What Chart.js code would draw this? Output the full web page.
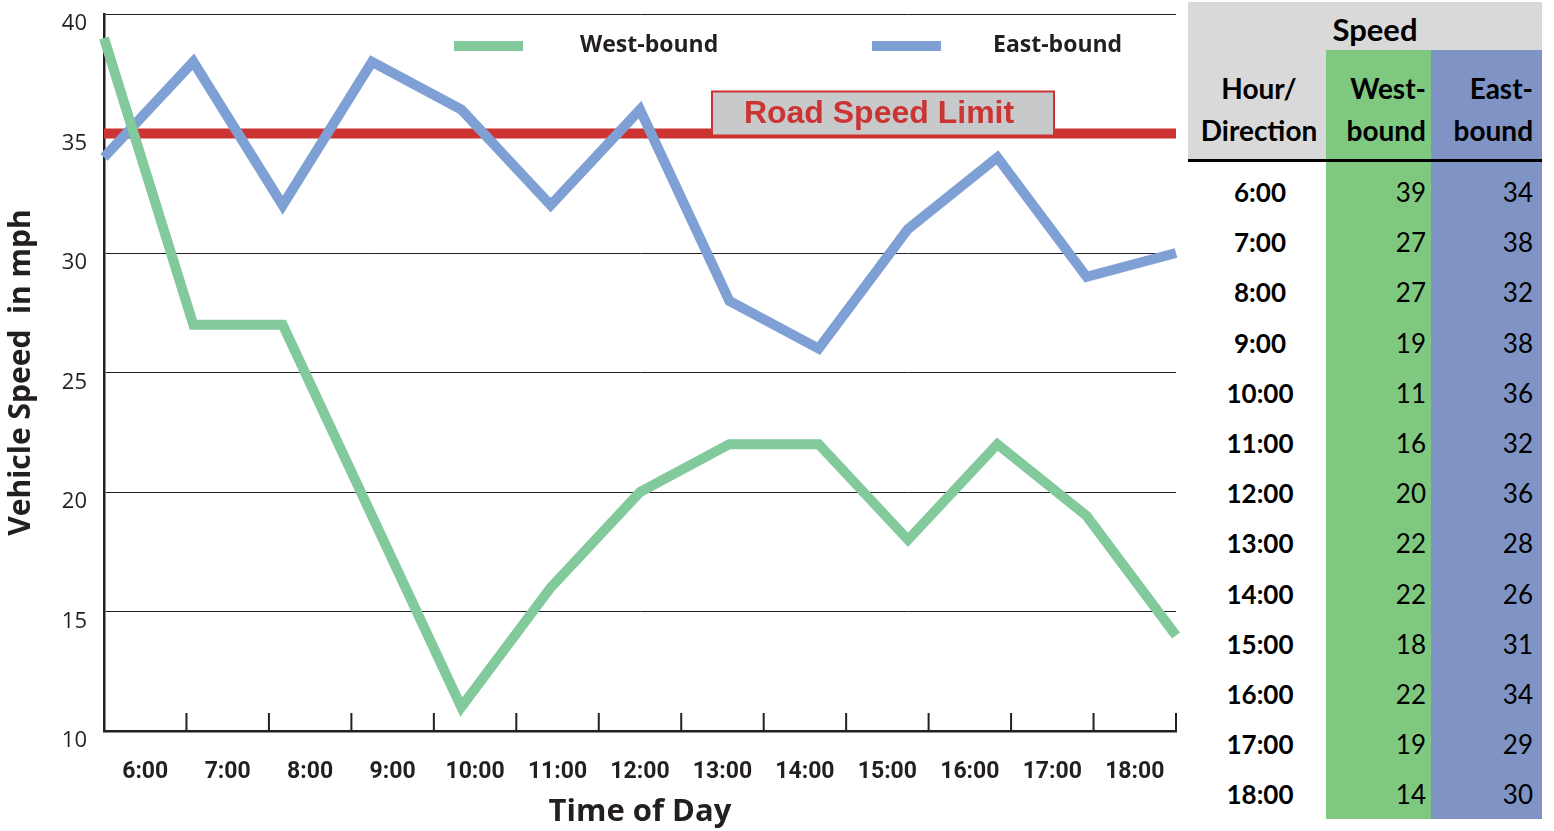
<!DOCTYPE html>
<html>
<head>
<meta charset="utf-8">
<script src="https://cdn.jsdelivr.net/npm/chart.js@4"></script>
<style>
    body { margin: 0; background: #fff; }
    #wrap { position: absolute; left: 0; top: 0; width: 1180px; height: 831px; }
    #speedTable {
        position: absolute; left: 1188px; top: 2px; width: 354px; table-layout: fixed;
        border-collapse: collapse; font-family: Lato, "Open Sans", sans-serif; color: #000;
    }
    #speedTable td, #speedTable th { padding: 0; box-sizing: border-box; }
    #speedTable .top th { background: #d9d9d9; height: 48px; font-size: 31px; padding-left: 20px; padding-top: 5px; }
    #speedTable .head th { height: 110px; font-size: 28px; line-height: 42px; border-bottom: 3px solid #000; padding-top: 10px; }
    #speedTable .hour { text-align: center; font-weight: bold; font-size: 26px; padding-left: 6px; }
    #speedTable .west { background: #7ec87f; text-align: right; padding-right: 5px; font-size: 26px; }
    #speedTable .east { background: #7f93c4; text-align: right; padding-right: 9px; font-size: 26px; }
    #speedTable .head .hour { background: #d9d9d9; padding-left: 4px; }
    #speedTable tbody td { height: 50.2px; }
    #speedTable tbody tr.gap td { height: 7px; }
</style>
</head>
<body>
<div id="wrap"><canvas id="speedChart"></canvas></div>
<table id="speedTable">
    <colgroup><col style="width:138px"><col style="width:105px"><col style="width:111px"></colgroup>
    <thead>
        <tr class="top"><th colspan="3">Speed</th></tr>
        <tr class="head">
            <th class="hour">Hour/<br>Direction</th>
            <th class="west">West-<br>bound</th>
            <th class="east">East-<br>bound</th>
        </tr>
    </thead>
    <tbody id="tableBody"></tbody>
</table>
<script>
// Chart data
const hours = ['6:00', '7:00', '8:00', '9:00', '10:00', '11:00', '12:00', '13:00', '14:00', '15:00', '16:00', '17:00', '18:00'];
const westBound = [39, 27, 27, 19, 11, 16, 20, 22, 22, 18, 22, 19, 14];
const eastBound = [34, 38, 32, 38, 36, 32, 36, 28, 26, 31, 34, 29, 30];
const speedLimit = 35;
const seriesNames = ['West-bound', 'East-bound'];

const westColor = '#82c99c';
const eastColor = '#7fa0d4';
const limitColor = '#cc3333';

// Fill the table from the same arrays
function buildTable() {
    const body = document.getElementById('tableBody');
    let html = '<tr class="gap"><td class="hour"></td><td class="west"></td><td class="east"></td></tr>';
    hours.forEach((h, i) => {
        html += '<tr><td class="hour">' + h + '</td><td class="west">' + westBound[i] +
            '</td><td class="east">' + eastBound[i] + '</td></tr>';
    });
    body.innerHTML = html;
}

// Speed limit line + label box, drawn under the data lines
const speedLimitPlugin = {
    id: 'speedLimit',
    beforeDatasetsDraw(chart) {
        const { ctx, chartArea, scales } = chart;
        const y = scales.y.getPixelForValue(speedLimit);
        ctx.save();
        ctx.fillStyle = limitColor;
        ctx.fillRect(chartArea.left, y - 5, chartArea.right - chartArea.left, 10);
        // label box
        const bx = chartArea.left + 608, by = y - 42, bw = 342, bh = 44;
        ctx.fillStyle = '#c8c9cb';
        ctx.fillRect(bx, by, bw, bh);
        ctx.strokeStyle = limitColor;
        ctx.lineWidth = 2;
        ctx.strokeRect(bx, by, bw, bh);
        ctx.fillStyle = limitColor;
        ctx.font = 'bold 32px "Liberation Sans", Arial, sans-serif';
        ctx.textAlign = 'center';
        ctx.textBaseline = 'middle';
        ctx.fillText('Road Speed Limit', bx + bw / 2 - 4, by + bh / 2 + 1);
        ctx.restore();
    }
};

// Tick marks between categories (pointing up into the plot) and the legend
const decorPlugin = {
    id: 'decor',
    afterDraw(chart) {
        const { ctx, chartArea, scales } = chart;
        const xs = scales.x;
        const half = (xs.getPixelForValue(1) - xs.getPixelForValue(0)) / 2;
        ctx.save();
        ctx.strokeStyle = '#231f20';
        ctx.lineWidth = 2;
        for (let i = 1; i <= hours.length; i++) {
            const px = xs.getPixelForValue(i - 1) + half;
            ctx.beginPath();
            ctx.moveTo(px, chartArea.bottom);
            ctx.lineTo(px, chartArea.bottom - 18);
            ctx.stroke();
        }
        // legend
        const items = [
            { label: seriesNames[0], color: westColor, x: chartArea.left + 350, tx: chartArea.left + 476 },
            { label: seriesNames[1], color: eastColor, x: chartArea.left + 768, tx: chartArea.left + 889 }
        ];
        ctx.font = 'bold 23px "Open Sans", sans-serif';
        ctx.textBaseline = 'middle';
        ctx.textAlign = 'left';
        items.forEach(it => {
            ctx.fillStyle = it.color;
            ctx.fillRect(it.x, chartArea.top + 27, 69, 10);
            ctx.fillStyle = '#231f20';
            ctx.fillText(it.label, it.tx, chartArea.top + 31);
        });
        ctx.restore();
    }
};

function initChart() {
    const el = document.getElementById('speedChart');
    new Chart(el, {
        type: 'line',
        data: {
            labels: hours,
            datasets: [
                { label: seriesNames[0], data: westBound, borderColor: westColor, xAxisID: 'xPts' },
                { label: seriesNames[1], data: eastBound, borderColor: eastColor, xAxisID: 'xPts' }
            ]
        },
        options: {
            responsive: true,
            maintainAspectRatio: false,
            animation: false,
            layout: { autoPadding: false, padding: { top: 14, right: 4, left: 0, bottom: 0 } },
            elements: {
                line: { borderWidth: 10, tension: 0, borderJoinStyle: 'miter', borderCapStyle: 'butt' },
                point: { radius: 0 }
            },
            plugins: {
                legend: { display: false },
                tooltip: { enabled: false }
            },
            scales: {
                x: {
                    type: 'category',
                    offset: true,
                    grid: { display: false, drawTicks: false },
                    border: { display: true, color: '#231f20', width: 2.5 },
                    ticks: {
                        padding: 27,
                        color: '#231f20',
                        font: { family: '"Liberation Sans Narrow", Roboto, "Liberation Sans", sans-serif', weight: 'bold', size: 23 }
                    },
                    title: {
                        display: true,
                        text: 'Time of Day',
                        color: '#231f20',
                        padding: { top: 0, bottom: 0 },
                        font: { family: '"Open Sans", sans-serif', weight: 'bold', size: 31 }
                    },
                    afterFit(scale) {
                        scale.height = 100;
                        scale.paddingLeft = 0;
                        scale.paddingRight = 0;
                    }
                },
                xPts: {
                    type: 'category',
                    offset: false,
                    display: false
                },
                y: {
                    min: 10,
                    max: 40,
                    ticks: {
                        stepSize: 5,
                        padding: 17,
                        labelOffset: 10,
                        color: '#231f20',
                        font: { family: '"Open Sans", sans-serif', size: 22 }
                    },
                    grid: { color: '#231f20', lineWidth: 1, drawTicks: false },
                    border: { display: true, color: '#231f20', width: 2.5 },
                    title: {
                        display: true,
                        text: 'Vehicle Speed  in mph',
                        color: '#231f20',
                        padding: { top: 3, bottom: 3 },
                        font: { family: '"Open Sans", sans-serif', weight: 'bold', size: 30 }
                    },
                    afterFit(scale) {
                        scale.width = 104;
                        scale.paddingTop = 0;
                        scale.paddingBottom = 0;
                    }
                }
            }
        },
        plugins: [speedLimitPlugin, decorPlugin]
    });
}

document.addEventListener('DOMContentLoaded', () => {
    buildTable();
    initChart();
});
</script>
</body>
</html>
